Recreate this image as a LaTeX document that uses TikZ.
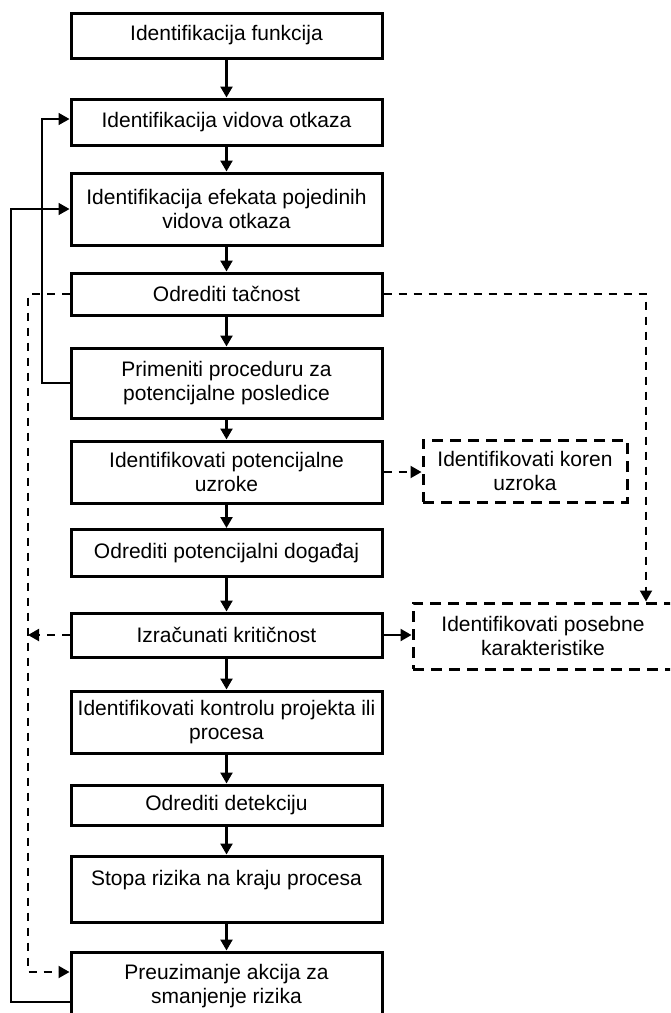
\documentclass[tikz,border=0pt]{standalone}
\usepackage{fontspec}
\setmainfont{Liberation Sans}
\usetikzlibrary{arrows.meta}
\begin{document}
\begin{tikzpicture}[x=1pt,y=-1pt,
  txt/.style={font=\fontsize{21}{24.5}\selectfont, align=center, inner sep=0pt},
  stepbox/.style={txt, draw, line width=3pt, minimum width=311pt},
  optbox/.style={txt, draw, line width=3pt, dash pattern=on 11pt off 7pt},
  tip/.style={-{Triangle[length=11pt,width=12pt]}},
  flow/.style={line width=2.3pt, tip},
  loopline/.style={line width=1.7pt},
  dashline/.style={line width=2pt, dash pattern=on 8pt off 7pt},
]
\useasboundingbox (0,0) rectangle (670,1013);
\clip (0,0) rectangle (670,1013);

% main sequence of steps
\node[stepbox, minimum height=45pt] (b1) at (226.5,35.5) {Identifikacija funkcija};
\node[stepbox, minimum height=46pt] (b2) at (226.5,122) {Identifikacija vidova otkaza};
\node[stepbox, minimum height=72pt] (b3) at (226.5,209) {Identifikacija efekata pojedinih\\vidova otkaza};
\node[stepbox, minimum height=42pt] (b4) at (226.5,294) {Odrediti tačnost};
\node[stepbox, minimum height=70pt] (b5) at (226.5,383) {Primeniti proceduru za\\potencijalne posledice};
\node[stepbox, minimum height=62pt] (b6) at (226.5,472) {Identifikovati potencijalne\\uzroke};
\node[stepbox, minimum height=47pt] (b7) at (226.5,553) {Odrediti potencijalni događaj};
\node[stepbox, minimum height=44pt] (b8) at (226.5,635) {Izračunati kritičnost};
\node[stepbox, minimum height=62pt] (b9) at (226.5,722) {Identifikovati kontrolu projekta ili\\procesa};
\node[stepbox, minimum height=40pt] (b10) at (226.5,805) {Odrediti detekciju};
\node[stepbox, minimum height=66pt] (b11) at (226.5,889) {};
\node[txt] (t11) at ([yshift=9pt]b11.center) {Stopa rizika na kraju procesa};
\node[stepbox, minimum height=68pt] (b12) at (226.5,986) {Preuzimanje akcija za\\smanjenje rizika};

% optional side steps
\node[optbox, minimum width=204pt, minimum height=62pt] (bA) at (525,471) {Identifikovati koren\\uzroka};
\node[optbox, minimum width=260pt, minimum height=66pt] (bB) at (543,636) {Identifikovati posebne\\karakteristike};

% downward flow
\foreach \a/\b in {b1/b2,b2/b3,b3/b4,b4/b5,b5/b6,b6/b7,b7/b8,b8/b9,b9/b10,b10/b11,b11/b12}
  \draw[flow] (\a.south) -- (\b.north);

% feedback loops on the left
\coordinate (li) at (42,0);
\coordinate (lo) at (11,0);
\coordinate (ld) at (28,0);
\draw[loopline, tip] (b5.west) -- (b5.west -| li) |- ([yshift=3pt]b2.west);
\draw[loopline, tip] ([yshift=-16pt]b12.west) -- ([yshift=-16pt]b12.west -| lo) |- (b3.west);
\draw[dashline, tip] (b4.west) -- (b4.west -| ld) |- ([yshift=14pt]b12.west);
\draw[dashline, tip] (b8.west) -- (b8.west -| ld);

% branches on the right
\coordinate (rd) at (646,0);
\draw[dashline, tip] (b4.east) -| (rd |- bB.north);
\draw[dashline, tip] (b6.east) -- (b6.east -| bA.west);
\draw[flow] (b8.east) -- (b8.east -| bB.west);
\end{tikzpicture}
\end{document}
